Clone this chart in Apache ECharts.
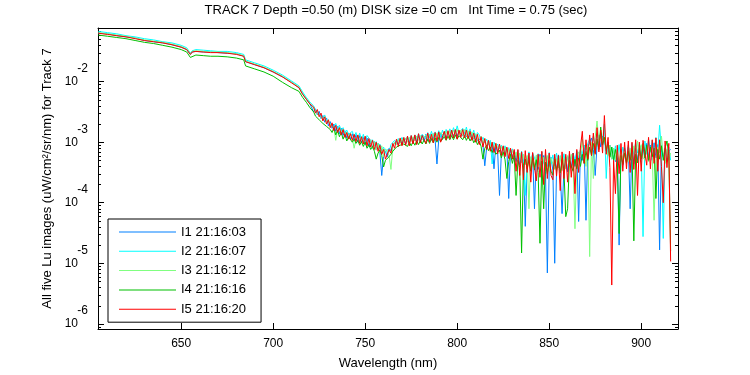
<!DOCTYPE html>
<html>
<head>
<meta charset="utf-8">
<script src="https://cdn.jsdelivr.net/npm/echarts@6/dist/echarts.min.js"></script>
<style>
html, body { margin: 0; padding: 0; background: #fff; }
#chart { width: 750px; height: 375px; }
</style>
</head>
<body>
<div id="chart"></div>
<script>
// wavelength grid (nm); series values are log10 of Lu
const wavelength = [605, 610, 615, 620, 625, 630, 635, 640, 645, 650, 653, 655, 656, 658, 662, 666, 670, 675, 680, 684, 685, 686, 690, 695, 700, 705, 710, 714, 716, 718, 720,
  722, 723, 724, 725, 726, 727, 728, 729, 730, 731,
  732, 733, 734, 735, 736, 737, 738, 739, 740, 741,
  742, 743, 744, 745, 746, 747, 748, 749, 750, 751,
  752, 753, 754, 755, 756, 757, 758, 759, 760, 761,
  762, 763, 764, 765, 766, 767, 768, 769, 770, 771,
  772, 773, 774, 775, 776, 777, 778, 779, 780, 781,
  782, 783, 784, 785, 786, 787, 788, 789, 790, 791,
  792, 793, 794, 795, 796, 797, 798, 799, 800, 801,
  802, 803, 804, 805, 806, 807, 808, 809, 810, 811,
  812, 813, 814, 815, 816, 817, 818, 819, 820, 821,
  822, 823, 824, 825, 826, 827, 828, 829, 830, 831,
  832, 833, 834, 835, 836, 837, 838, 839, 840, 841,
  842, 843, 844, 845, 846, 847, 848, 849, 850, 851,
  852, 853, 854, 855, 856, 857, 858, 859, 860, 861,
  862, 863, 864, 865, 866, 867, 868, 869, 870, 871,
  872, 873, 874, 875, 876, 877, 878, 879, 880, 881,
  882, 883, 884, 885, 886, 887, 888, 889, 890, 891,
  892, 893, 894, 895, 896, 897, 898, 899, 900, 901,
  902, 903, 904, 905, 906, 907, 908, 909, 910, 911,
  912, 913, 914, 915, 916];

const i1Log = [-1.20, -1.21, -1.24, -1.26, -1.28, -1.32, -1.34, -1.36, -1.39, -1.43, -1.47, -1.55, -1.51, -1.50, -1.51, -1.51, -1.52, -1.53, -1.54, -1.58, -1.67, -1.69, -1.72, -1.77, -1.84, -1.92, -2.01, -2.10, -2.20, -2.29, -2.37,
  -2.50, -2.45, -2.55, -2.49, -2.61, -2.56, -2.67, -2.60, -2.73, -2.66,
  -2.77, -2.70, -2.82, -2.74, -2.86, -2.77, -2.89, -2.81, -2.93, -2.85,
  -2.95, -2.86, -2.97, -2.88, -3.00, -2.89, -3.01, -2.92, -3.04, -2.93,
  -3.07, -2.96, -3.10, -2.99, -3.13, -3.02, -3.17, -3.55, -3.22, -3.15,
  -3.24, -3.10, -3.14, -3.05, -3.07, -2.98, -3.04, -2.95, -3.03, -2.94,
  -3.03, -2.92, -3.01, -2.91, -3.02, -2.89, -3.00, -2.90, -2.99, -2.88,
  -2.99, -2.87, -2.98, -2.88, -2.97, -2.86, -2.96, -3.36, -2.95, -2.85,
  -2.95, -2.83, -2.94, -2.84, -2.92, -2.82, -2.91, -2.81, -2.90, -2.82,
  -2.81, -2.90, -2.83, -2.91, -2.84, -2.92, -2.86, -2.95, -2.89, -2.98,
  -3.01, -2.93, -3.05, -3.39, -3.09, -2.99, -3.12, -3.02, -3.44, -3.04,
  -3.16, -3.88, -3.19, -3.08, -3.22, -3.10, -3.93, -3.12, -3.25, -3.14,
  -3.32, -3.18, -3.38, -3.20, -3.35, -4.39, -3.40, -3.22, -3.44, -3.19,
  -4.10, -3.24, -3.45, -3.20, -3.50, -3.22, -3.48, -5.16, -3.42, -3.25,
  -3.47, -5.00, -3.44, -3.21, -3.50, -4.18, -3.46, -3.24, -3.49, -3.20,
  -3.43, -3.18, -3.40, -3.16, -4.31, -3.14, -3.30, -3.05, -4.29, -3.08,
  -3.10, -2.93, -3.12, -3.55, -3.05, -2.88, -3.08, -2.90, -2.98, -3.12,
  -3.18, -3.05, -3.28, -3.10, -3.32, -3.14, -4.70, -3.12, -3.38, -3.10,
  -3.34, -3.08, -4.10, -3.06, -3.36, -3.10, -3.30, -3.04, -3.33, -3.08,
  -3.28, -3.02, -3.25, -3.05, -3.30, -3.01, -3.26, -3.04, -4.78, -3.06,
  -3.24, -3.10, -3.32, -3.15, -3.12];

const i2Log = [-1.17, -1.19, -1.21, -1.24, -1.26, -1.29, -1.31, -1.34, -1.36, -1.40, -1.44, -1.53, -1.49, -1.47, -1.48, -1.49, -1.50, -1.50, -1.52, -1.55, -1.64, -1.66, -1.69, -1.74, -1.81, -1.89, -1.99, -2.07, -2.17, -2.26, -2.34,
  -2.40, -2.47, -2.44, -2.53, -2.50, -2.59, -2.55, -2.64, -2.61, -2.69,
  -2.66, -2.74, -2.69, -2.78, -2.72, -2.81, -2.76, -2.85, -2.80, -2.87,
  -2.90, -2.82, -2.92, -2.84, -2.95, -2.85, -2.97, -2.87, -3.00, -2.89,
  -2.93, -3.03, -2.96, -3.06, -2.99, -3.09, -3.03, -3.14, -3.08, -3.18,
  -3.12, -3.16, -3.04, -3.07, -2.97, -3.02, -2.94, -3.00, -2.92, -2.99,
  -2.99, -2.91, -2.98, -2.89, -2.97, -2.88, -2.96, -2.86, -2.95, -2.87,
  -2.85, -2.95, -2.84, -2.93, -2.82, -2.94, -2.83, -2.91, -2.81, -2.92,
  -2.80, -2.90, -2.79, -2.88, -2.78, -2.87, -2.76, -2.86, -2.73, -2.85,
  -2.86, -2.77, -2.87, -2.75, -2.89, -2.78, -2.92, -2.80, -2.95, -2.84,
  -2.88, -2.98, -2.92, -3.01, -2.95, -3.04, -2.97, -3.36, -3.00, -3.08,
  -3.03, -3.11, -3.05, -3.14, -3.06, -3.17, -3.09, -3.20, -3.11, -3.22,
  -3.26, -3.13, -3.30, -3.15, -3.28, -3.88, -3.32, -3.16, -3.36, -3.18,
  -3.15, -3.34, -3.19, -3.38, -3.16, -3.35, -3.20, -3.40, -3.17, -3.36,
  -3.21, -3.39, -3.18, -3.42, -3.22, -3.37, -3.19, -3.41, -3.23, -3.36,
  -3.34, -3.18, -3.30, -3.14, -3.26, -3.12, -3.20, -3.05, -3.15, -3.02,
  -2.95, -3.10, -2.90, -3.05, -2.86, -3.02, -2.84, -2.96, -2.70, -3.60,
  -3.02, -3.22, -3.08, -3.30, -3.06, -3.25, -3.04, -3.28, -3.08, -3.22,
  -3.26, -3.05, -3.24, -3.02, -3.20, -3.00, -3.18, -3.04, -3.10, -4.56,
  -2.98, -3.20, -2.95, -3.16, -2.97, -3.22, -2.92, -3.18, -2.72, -3.15,
  -4.59, -3.05, -3.26, -3.08, -3.30];

const i3Log = [-1.19, -1.21, -1.23, -1.25, -1.28, -1.31, -1.33, -1.35, -1.38, -1.42, -1.46, -1.54, -1.50, -1.49, -1.50, -1.51, -1.51, -1.52, -1.54, -1.57, -1.66, -1.68, -1.71, -1.76, -1.83, -1.91, -2.01, -2.09, -2.20, -2.28, -2.36,
  -2.44, -2.50, -2.47, -2.56, -2.53, -2.62, -2.58, -2.67, -2.63, -2.72,
  -2.69, -2.76, -2.97, -2.80, -2.76, -2.84, -2.79, -2.88, -2.83, -2.91,
  -2.85, -2.94, -3.10, -2.95, -2.89, -2.98, -2.91, -3.00, -2.92, -3.03,
  -3.06, -2.96, -3.10, -2.99, -3.13, -3.02, -3.18, -3.06, -3.24, -3.11,
  -3.15, -3.22, -3.45, -3.08, -3.00, -3.04, -2.96, -3.02, -2.95, -3.01,
  -2.93, -3.00, -2.92, -2.99, -2.91, -2.98, -2.90, -2.97, -2.89, -2.96,
  -2.96, -2.88, -2.95, -2.87, -2.94, -2.86, -2.93, -2.85, -2.92, -2.84,
  -2.83, -2.91, -2.82, -2.90, -2.81, -2.89, -2.80, -2.88, -2.79, -2.88,
  -2.80, -2.89, -2.79, -2.90, -2.81, -2.91, -2.83, -2.94, -2.86, -2.97,
  -3.00, -2.90, -3.04, -2.94, -3.07, -2.97, -3.10, -3.00, -3.13, -3.02,
  -3.05, -3.16, -3.07, -3.19, -3.09, -3.22, -3.11, -3.25, -3.13, -3.27,
  -3.16, -3.31, -3.18, -3.34, -3.20, -3.37, -3.22, -4.10, -3.24, -3.40,
  -3.44, -3.21, -3.41, -3.23, -3.46, -3.25, -3.43, -3.22, -3.48, -3.26,
  -3.24, -3.45, -3.27, -3.42, -3.23, -3.47, -3.26, -3.44, -3.22, -3.40,
  -3.20, -3.38, -4.43, -3.30, -3.16, -3.24, -2.95, -3.18, -3.40, -3.05,
  -4.89, -3.00, -3.60, -2.92, -2.65, -2.98, -2.90, -3.04, -2.92, -3.10,
  -3.22, -3.05, -3.28, -3.10, -3.30, -3.12, -3.34, -3.14, -3.30, -3.15,
  -3.12, -3.32, -3.10, -3.28, -3.06, -3.26, -2.98, -3.22, -3.04, -3.25,
  -3.30, -3.07, -3.32, -3.10, -3.20, -4.29, -3.26, -3.08, -3.18, -2.90,
  -3.22, -3.35, -3.12, -3.30, -3.18];

const i4Log = [-1.23, -1.25, -1.27, -1.29, -1.32, -1.35, -1.37, -1.40, -1.43, -1.47, -1.51, -1.60, -1.57, -1.56, -1.57, -1.58, -1.58, -1.59, -1.61, -1.64, -1.74, -1.76, -1.79, -1.84, -1.91, -2.01, -2.10, -2.16, -2.26, -2.34, -2.43,
  -2.50, -2.57, -2.55, -2.63, -2.60, -2.69, -2.66, -2.74, -2.71, -2.79,
  -2.84, -2.76, -2.88, -2.80, -2.91, -2.84, -2.95, -2.87, -2.98, -2.91,
  -2.93, -3.00, -2.95, -3.02, -2.97, -3.05, -2.99, -3.07, -3.00, -3.10,
  -3.04, -3.12, -3.07, -3.15, -3.28, -3.18, -3.13, -3.22, -3.41, -3.30,
  -3.28, -3.24, -3.20, -3.15, -3.12, -3.08, -3.10, -3.05, -3.08, -3.03,
  -3.02, -3.07, -3.00, -3.06, -2.99, -3.05, -2.98, -3.04, -2.97, -3.03,
  -2.96, -3.03, -2.95, -3.02, -2.94, -3.01, -2.93, -3.00, -2.92, -2.99,
  -2.98, -2.91, -2.97, -2.90, -2.96, -2.89, -2.96, -2.88, -2.95, -2.89,
  -2.88, -2.96, -2.89, -2.97, -2.90, -2.98, -2.92, -3.01, -2.95, -3.04,
  -2.98, -3.07, -3.28, -3.10, -3.05, -3.14, -3.08, -3.17, -3.11, -3.20,
  -3.23, -3.13, -3.26, -3.16, -3.29, -3.60, -3.32, -3.20, -3.35, -3.22,
  -3.88, -3.30, -3.42, -4.83, -3.38, -3.28, -3.44, -3.30, -3.48, -3.27,
  -3.46, -3.29, -3.50, -4.67, -3.31, -4.10, -3.33, -3.52, -3.30, -3.48,
  -3.54, -3.28, -3.47, -3.31, -3.51, -3.29, -3.45, -4.23, -4.10, -3.30,
  -3.32, -3.48, -3.28, -3.44, -3.26, -3.40, -3.20, -3.35, -3.15, -3.30,
  -3.08, -3.22, -3.02, -3.18, -2.95, -3.12, -2.75, -3.05, -2.92, -3.14,
  -3.00, -3.25, -3.08, -3.30, -3.12, -3.34, -4.51, -3.22, -3.36, -3.18,
  -3.35, -3.15, -3.30, -3.12, -4.63, -3.20, -3.34, -3.10, -3.28, -3.02,
  -3.26, -3.05, -3.30, -3.08, -3.24, -3.10, -3.93, -3.12, -3.28, -3.06,
  -3.30, -3.10, -2.98, -3.22, -4.80];

const i5Log = [-1.20, -1.22, -1.24, -1.26, -1.29, -1.32, -1.34, -1.36, -1.39, -1.43, -1.47, -1.55, -1.51, -1.50, -1.51, -1.52, -1.52, -1.53, -1.55, -1.58, -1.67, -1.69, -1.72, -1.77, -1.84, -1.92, -2.02, -2.10, -2.21, -2.29, -2.37,
  -2.42, -2.52, -2.46, -2.58, -2.52, -2.65, -2.58, -2.70, -2.63, -2.76,
  -2.68, -2.81, -2.72, -2.84, -2.76, -2.88, -2.79, -2.92, -2.84, -2.95,
  -2.86, -2.97, -2.87, -2.99, -2.88, -3.02, -2.91, -3.03, -2.90, -3.06,
  -2.94, -3.08, -2.97, -3.12, -3.00, -3.15, -3.05, -3.20, -3.12, -3.28,
  -3.30, -3.12, -3.18, -3.02, -3.10, -2.95, -3.07, -2.93, -3.06, -2.92,
  -3.05, -2.90, -3.06, -2.89, -3.03, -2.88, -3.04, -2.86, -3.01, -2.89,
  -2.86, -3.02, -2.85, -3.00, -2.87, -3.01, -2.84, -2.98, -2.83, -3.00,
  -2.97, -2.82, -2.96, -2.81, -2.94, -2.80, -2.93, -2.79, -2.95, -2.80,
  -2.92, -2.79, -2.93, -2.80, -2.94, -2.82, -2.97, -2.85, -3.00, -2.87,
  -3.04, -2.91, -3.08, -2.94, -3.12, -2.97, -3.15, -3.00, -3.17, -3.02,
  -3.19, -3.03, -3.22, -3.06, -3.24, -3.08, -3.27, -3.10, -3.28, -3.12,
  -3.48, -3.12, -3.55, -3.16, -3.62, -3.14, -3.50, -3.18, -3.66, -3.17,
  -3.17, -3.64, -3.20, -3.58, -3.15, -3.70, -3.12, -3.60, -3.18, -3.55,
  -3.62, -3.20, -3.56, -3.22, -3.80, -3.16, -3.60, -3.20, -3.66, -3.15,
  -3.58, -3.18, -3.85, -3.12, -3.50, -3.08, -2.82, -3.35, -2.96, -3.28,
  -2.88, -3.22, -2.85, -3.20, -2.76, -3.16, -2.80, -3.18, -2.56, -3.20,
  -2.92, -3.42, -5.36, -3.30, -3.85, -3.05, -3.52, -3.02, -3.48, -3.00,
  -3.44, -2.98, -3.50, -3.00, -3.45, -2.96, -3.88, -3.00, -3.48, -2.97,
  -2.95, -3.38, -2.92, -3.44, -2.96, -3.35, -2.93, -3.48, -2.96, -3.40,
  -4.00, -2.98, -3.42, -3.02, -4.97];

const seriesNames = ['I1 21:16:03', 'I2 21:16:07', 'I3 21:16:12', 'I4 21:16:16', 'I5 21:16:20'];
const seriesLogs = [i1Log, i2Log, i3Log, i4Log, i5Log];
const seriesColors = ['#0080ff', '#00ffff', '#80ff80', '#00c000', '#ff0000'];

const xMin = 604.8, xMax = 920;
const yMin = 8.2e-7, yMax = 0.077;
const font = "'Liberation Sans', Arial, Helvetica, sans-serif";

// minor ticks of the log axis (2..9 x 10^n)
const minorTicks = [];
for (let e = -7; e <= -1; e++) {
  for (let k = 2; k <= 9; k++) {
    const v = k * Math.pow(10, e);
    if (v > yMin && v < yMax) minorTicks.push([xMin, v]);
  }
}

const chart = echarts.init(document.getElementById('chart'));

const lineSeries = seriesNames.map((name, k) => ({
  name, type: 'line', xAxisIndex: 0, yAxisIndex: 0,
  data: seriesLogs[k].map((v, i) => [wavelength[i], Math.pow(10, v)]),
  showSymbol: false, symbol: 'none',
  lineStyle: { width: 1, color: seriesColors[k] },
  itemStyle: { color: seriesColors[k] },
  animation: false
}));

const decadeLabel = v => {
  const e = Math.log10(v);
  const n = Math.round(e);
  if (Math.abs(e - n) > 1e-3) return '';
  return '{e|' + n + '}\n{b|10}{s| }\n{e| }';
};

const tickStyle = { inside: true, length: 6, lineStyle: { color: '#000', width: 1 } };
const lineStyleBlack = { show: true, onZero: false, lineStyle: { color: '#000', width: 1 } };

chart.setOption({
  backgroundColor: '#fff',
  animation: false,
  title: {
    text: 'TRACK 7 Depth =0.50 (m) DISK size =0 cm   Int Time = 0.75 (sec)',
    left: 396, top: 4, textAlign: 'center', padding: 0,
    textStyle: { fontSize: 13, fontWeight: 'normal', color: '#000', fontFamily: font }
  },
  legend: {
    data: seriesNames, orient: 'vertical', left: 108, top: 219,
    itemWidth: 57, itemHeight: 1, itemGap: 5.3, icon: 'rect',
    padding: [6, 15, 6, 11], borderColor: '#000', borderWidth: 1, borderRadius: 0,
    backgroundColor: '#fff', selectedMode: false,
    textStyle: { fontSize: 13, color: '#000', lineHeight: 14, fontFamily: font }
  },
  grid: { left: 98, right: 72, top: 28, bottom: 44 },
  xAxis: [{
    type: 'value', min: xMin, max: xMax, splitNumber: 6, position: 'bottom',
    axisLine: lineStyleBlack, axisTick: tickStyle, splitLine: { show: false },
    axisLabel: {
      color: '#000', fontSize: 12, fontFamily: font, margin: 9,
      showMinLabel: false, showMaxLabel: false,
      formatter: v => (Math.abs(v % 50) < 1e-6 ? String(v) : '')
    },
    name: 'Wavelength (nm)', nameLocation: 'middle', nameGap: 28,
    nameTextStyle: { color: '#000', fontSize: 13, fontFamily: font }
  }, {
    type: 'value', min: xMin, max: xMax, splitNumber: 6, position: 'top',
    axisLine: lineStyleBlack, axisTick: tickStyle, splitLine: { show: false },
    axisLabel: { show: false }
  }],
  yAxis: [{
    type: 'log', logBase: 10, min: yMin, max: yMax, position: 'left',
    axisLine: lineStyleBlack, axisTick: tickStyle, splitLine: { show: false },
    axisLabel: {
      margin: 10, formatter: decadeLabel,
      rich: {
        e: { fontSize: 12, lineHeight: 13, color: '#000', fontFamily: font },
        b: { fontSize: 12, lineHeight: 13, color: '#000', fontFamily: font },
        s: { width: 10, lineHeight: 13 }
      }
    },
    name: 'All five Lu images (uW/cm²/sr/nm) for Track 7',
    nameLocation: 'middle', nameGap: 35, nameRotate: 90,
    nameTextStyle: { color: '#000', fontSize: 13, fontFamily: font }
  }, {
    type: 'log', logBase: 10, min: yMin, max: yMax, position: 'right',
    axisLine: lineStyleBlack, axisTick: tickStyle, splitLine: { show: false },
    axisLabel: { show: false }
  }],
  series: [{
    type: 'custom', silent: true, xAxisIndex: 0, yAxisIndex: 0, z: 1,
    data: minorTicks,
    renderItem: (params, api) => {
      const cs = params.coordSys;
      const y = Math.round(api.coord([xMin, api.value(1)])[1]) + 0.5;
      const st = { stroke: '#000', lineWidth: 1 };
      return {
        type: 'group', children: [
          { type: 'line', shape: { x1: cs.x, y1: y, x2: cs.x + 3, y2: y }, style: st },
          { type: 'line', shape: { x1: cs.x + cs.width, y1: y, x2: cs.x + cs.width - 3, y2: y }, style: st }
        ]
      };
    }
  }].concat(lineSeries)
});
</script>
</body>
</html>
